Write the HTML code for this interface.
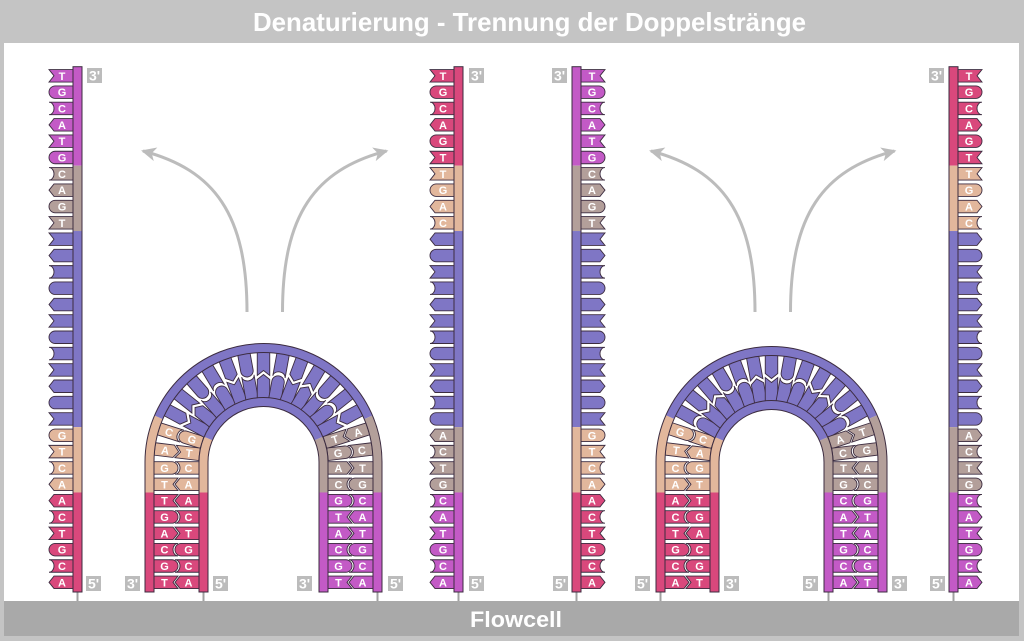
<!DOCTYPE html>
<html><head><meta charset="utf-8"><style>
html,body{margin:0;padding:0;background:#c4c4c4}
svg{display:block}
.lt{font:bold 11px "Liberation Sans",sans-serif;fill:#fff;text-anchor:middle}
.lb{font:bold 14px "Liberation Sans",sans-serif;fill:#fff;text-anchor:middle}
.bb{fill:none;stroke:#3c2c40;stroke-width:1}
</style></head><body>
<svg width="1024" height="641" viewBox="0 0 1024 641" xmlns="http://www.w3.org/2000/svg">
<defs>
<path id="bA" d="M0,-6.25H19L24,0L19,6.25H0Z" stroke="#3c2c40" stroke-width="0.9"/>
<path id="bT" d="M0,-6.25H24L19,0L24,6.25H0Z" stroke="#3c2c40" stroke-width="0.9"/>
<path id="bG" d="M0,-6.25H17.75A6.25,6.25 0 0 1 17.75,6.25H0Z" stroke="#3c2c40" stroke-width="0.9"/>
<path id="bC" d="M0,-6.25H24A5,6.25 0 0 0 24,6.25H0Z" stroke="#3c2c40" stroke-width="0.9"/>
<marker id="ah" markerUnits="userSpaceOnUse" markerWidth="20" markerHeight="20" refX="13" refY="7" orient="auto"><path d="M0,0L15,7L0,14L4,7Z" fill="#bcbcbc"/></marker>
<g id="sA">
<use href="#bT" y="75.8" fill="#c35ac6"/><use href="#bG" y="92.14" fill="#c35ac6"/><use href="#bC" y="108.48" fill="#c35ac6"/><use href="#bA" y="124.82" fill="#c35ac6"/><use href="#bT" y="141.16" fill="#c35ac6"/><use href="#bG" y="157.5" fill="#c35ac6"/>
<use href="#bC" y="173.84" fill="#b39f9a"/><use href="#bA" y="190.18" fill="#b39f9a"/><use href="#bG" y="206.52" fill="#b39f9a"/><use href="#bT" y="222.86" fill="#b39f9a"/>
<use href="#bT" y="239.2" fill="#7f76c5"/><use href="#bA" y="255.54" fill="#7f76c5"/><use href="#bC" y="271.88" fill="#7f76c5"/><use href="#bG" y="288.22" fill="#7f76c5"/><use href="#bA" y="304.56" fill="#7f76c5"/><use href="#bT" y="320.9" fill="#7f76c5"/><use href="#bG" y="337.24" fill="#7f76c5"/><use href="#bC" y="353.58" fill="#7f76c5"/><use href="#bT" y="369.92" fill="#7f76c5"/><use href="#bA" y="386.26" fill="#7f76c5"/><use href="#bG" y="402.6" fill="#7f76c5"/><use href="#bT" y="418.94" fill="#7f76c5"/>
<use href="#bG" y="435.28" fill="#e2b79c"/><use href="#bT" y="451.62" fill="#e2b79c"/><use href="#bC" y="467.96" fill="#e2b79c"/><use href="#bA" y="484.3" fill="#e2b79c"/>
<use href="#bA" y="500.64" fill="#d9487c"/><use href="#bC" y="516.98" fill="#d9487c"/><use href="#bT" y="533.32" fill="#d9487c"/><use href="#bG" y="549.66" fill="#d9487c"/><use href="#bC" y="566" fill="#d9487c"/><use href="#bA" y="582.34" fill="#d9487c"/>
<rect x="-9" y="66.7" width="9" height="98.97" fill="#c35ac6"/>
<rect x="-9" y="165.67" width="9" height="65.36" fill="#b39f9a"/>
<rect x="-9" y="231.03" width="9" height="196.08" fill="#7f76c5"/>
<rect x="-9" y="427.11" width="9" height="65.36" fill="#e2b79c"/>
<rect x="-9" y="492.47" width="9" height="99.53" fill="#d9487c"/>
<rect x="-9" y="66.7" width="9" height="525.3" class="bb"/>
</g>
<g id="sB">
<use href="#bT" y="75.8" fill="#d9487c"/><use href="#bG" y="92.14" fill="#d9487c"/><use href="#bC" y="108.48" fill="#d9487c"/><use href="#bA" y="124.82" fill="#d9487c"/><use href="#bG" y="141.16" fill="#d9487c"/><use href="#bT" y="157.5" fill="#d9487c"/>
<use href="#bT" y="173.84" fill="#e2b79c"/><use href="#bG" y="190.18" fill="#e2b79c"/><use href="#bA" y="206.52" fill="#e2b79c"/><use href="#bC" y="222.86" fill="#e2b79c"/>
<use href="#bA" y="239.2" fill="#7f76c5"/><use href="#bG" y="255.54" fill="#7f76c5"/><use href="#bT" y="271.88" fill="#7f76c5"/><use href="#bC" y="288.22" fill="#7f76c5"/><use href="#bA" y="304.56" fill="#7f76c5"/><use href="#bT" y="320.9" fill="#7f76c5"/><use href="#bC" y="337.24" fill="#7f76c5"/><use href="#bG" y="353.58" fill="#7f76c5"/><use href="#bT" y="369.92" fill="#7f76c5"/><use href="#bA" y="386.26" fill="#7f76c5"/><use href="#bC" y="402.6" fill="#7f76c5"/><use href="#bG" y="418.94" fill="#7f76c5"/>
<use href="#bA" y="435.28" fill="#b39f9a"/><use href="#bC" y="451.62" fill="#b39f9a"/><use href="#bT" y="467.96" fill="#b39f9a"/><use href="#bG" y="484.3" fill="#b39f9a"/>
<use href="#bC" y="500.64" fill="#c35ac6"/><use href="#bA" y="516.98" fill="#c35ac6"/><use href="#bT" y="533.32" fill="#c35ac6"/><use href="#bG" y="549.66" fill="#c35ac6"/><use href="#bC" y="566" fill="#c35ac6"/><use href="#bA" y="582.34" fill="#c35ac6"/>
<rect x="-9" y="66.7" width="9" height="98.97" fill="#d9487c"/>
<rect x="-9" y="165.67" width="9" height="65.36" fill="#e2b79c"/>
<rect x="-9" y="231.03" width="9" height="196.08" fill="#7f76c5"/>
<rect x="-9" y="427.11" width="9" height="65.36" fill="#b39f9a"/>
<rect x="-9" y="492.47" width="9" height="99.53" fill="#c35ac6"/>
<rect x="-9" y="66.7" width="9" height="525.3" class="bb"/>
</g>
</defs>

<!-- frame -->
<rect x="0" y="0" width="1024" height="641" fill="#c4c4c4"/>
<rect x="4" y="43" width="1015" height="558" fill="#ffffff"/>
<rect x="4" y="601" width="1015" height="35" fill="#a9a9a9"/>
<text x="529.5" y="31" font-family="Liberation Sans, sans-serif" font-weight="bold" font-size="26" fill="#fff" text-anchor="middle" textLength="553" lengthAdjust="spacingAndGlyphs">Denaturierung - Trennung der Doppelstränge</text>
<text x="516" y="627" font-family="Liberation Sans, sans-serif" font-weight="bold" font-size="22" fill="#fff" text-anchor="middle" textLength="92" lengthAdjust="spacingAndGlyphs">Flowcell</text>

<!-- stems -->
<g stroke="#a0a0a0" stroke-width="2">
<line x1="77.5" y1="592" x2="77.5" y2="601"/><line x1="458.5" y1="592" x2="458.5" y2="601"/>
<line x1="576.5" y1="592" x2="576.5" y2="601"/><line x1="953.5" y1="592" x2="953.5" y2="601"/>
<line x1="203.5" y1="592" x2="203.5" y2="601"/><line x1="377.5" y1="592" x2="377.5" y2="601"/>
<line x1="660.5" y1="592" x2="660.5" y2="601"/><line x1="828.5" y1="592" x2="828.5" y2="601"/>
</g>

<!-- arrows -->
<g fill="none" stroke="#bcbcbc" stroke-width="3" marker-end="url(#ah)">
<path d="M247,312C247,215 215,170 143,151"/>
<path d="M282.5,312C282.5,215 314.5,170 386.5,151"/>
<path d="M755,312C755,215 723,170 651,151"/>
<path d="M790.5,312C790.5,215 822.5,170 894.5,151"/>
</g>

<!-- single strands -->
<use href="#sA" transform="translate(73,0) scale(-1,1)"/>
<use href="#sB" transform="translate(454,0) scale(-1,1)"/>
<use href="#sA" transform="translate(581,0)"/>
<use href="#sB" transform="translate(958,0)"/>

<text class="lt" x="62 62 62 62 62 62 62 62 62 62" y="79.8 96.1 112.5 128.8 145.2 161.5 177.8 194.2 210.5 226.9">TGCATGCAGT</text>
<text class="lt" x="62 62 62 62 62 62 62 62 62 62" y="439.3 455.6 472 488.3 504.6 521 537.3 553.7 570 586.3">GTCAACTGCA</text>
<text class="lt" x="443 443 443 443 443 443 443 443 443 443" y="79.8 96.1 112.5 128.8 145.2 161.5 177.8 194.2 210.5 226.9">TGCAGTTGAC</text>
<text class="lt" x="443 443 443 443 443 443 443 443 443 443" y="439.3 455.6 472 488.3 504.6 521 537.3 553.7 570 586.3">ACTGCATGCA</text>
<text class="lt" x="592 592 592 592 592 592 592 592 592 592" y="79.8 96.1 112.5 128.8 145.2 161.5 177.8 194.2 210.5 226.9">TGCATGCAGT</text>
<text class="lt" x="592 592 592 592 592 592 592 592 592 592" y="439.3 455.6 472 488.3 504.6 521 537.3 553.7 570 586.3">GTCAACTGCA</text>
<text class="lt" x="969 969 969 969 969 969 969 969 969 969" y="79.8 96.1 112.5 128.8 145.2 161.5 177.8 194.2 210.5 226.9">TGCAGTTGAC</text>
<text class="lt" x="969 969 969 969 969 969 969 969 969 969" y="439.3 455.6 472 488.3 504.6 521 537.3 553.7 570 586.3">ACTGCATGCA</text>

<!-- ARCH 1 -->
<g transform="translate(263.5,462)">
<use href="#bG" x="-109.5" y="5.96" fill="#e2b79c"/>
<use href="#bT" x="-109.5" y="22.3" fill="#e2b79c"/>
<use href="#bT" x="-109.5" y="38.64" fill="#d9487c"/>
<use href="#bG" x="-109.5" y="54.98" fill="#d9487c"/>
<use href="#bA" x="-109.5" y="71.32" fill="#d9487c"/>
<use href="#bC" x="-109.5" y="87.66" fill="#d9487c"/>
<use href="#bG" x="-109.5" y="104" fill="#d9487c"/>
<use href="#bT" x="-109.5" y="120.34" fill="#d9487c"/>
<use href="#bC" transform="translate(-64.5,5.96) scale(-1,1)" fill="#e2b79c"/>
<use href="#bA" transform="translate(-64.5,22.3) scale(-1,1)" fill="#e2b79c"/>
<use href="#bA" transform="translate(-64.5,38.64) scale(-1,1)" fill="#d9487c"/>
<use href="#bC" transform="translate(-64.5,54.98) scale(-1,1)" fill="#d9487c"/>
<use href="#bT" transform="translate(-64.5,71.32) scale(-1,1)" fill="#d9487c"/>
<use href="#bG" transform="translate(-64.5,87.66) scale(-1,1)" fill="#d9487c"/>
<use href="#bC" transform="translate(-64.5,104) scale(-1,1)" fill="#d9487c"/>
<use href="#bA" transform="translate(-64.5,120.34) scale(-1,1)" fill="#d9487c"/>
<use href="#bC" transform="rotate(17.6) translate(-109.5,0)" fill="#e2b79c"/>
<use href="#bG" transform="rotate(17.6) translate(-64.5,0) scale(-1,1)" fill="#e2b79c"/>
<use href="#bA" transform="rotate(6.84) translate(-109.5,0)" fill="#e2b79c"/>
<use href="#bT" transform="rotate(6.84) translate(-64.5,0) scale(-1,1)" fill="#e2b79c"/>
<g fill="#7f76c5">
<use href="#bA" transform="rotate(28.23) translate(-110.5,0)"/><use href="#bT" transform="rotate(28.23) translate(-63.5,0) scale(-1,1)"/>
<use href="#bT" transform="rotate(38.52) translate(-110.5,0)"/><use href="#bA" transform="rotate(38.52) translate(-63.5,0) scale(-1,1)"/>
<use href="#bG" transform="rotate(48.82) translate(-110.5,0)"/><use href="#bC" transform="rotate(48.82) translate(-63.5,0) scale(-1,1)"/>
<use href="#bC" transform="rotate(59.11) translate(-110.5,0)"/><use href="#bG" transform="rotate(59.11) translate(-63.5,0) scale(-1,1)"/>
<use href="#bA" transform="rotate(69.41) translate(-110.5,0)"/><use href="#bT" transform="rotate(69.41) translate(-63.5,0) scale(-1,1)"/>
<use href="#bG" transform="rotate(79.71) translate(-110.5,0)"/><use href="#bC" transform="rotate(79.71) translate(-63.5,0) scale(-1,1)"/>
<use href="#bT" transform="rotate(90) translate(-110.5,0)"/><use href="#bA" transform="rotate(90) translate(-63.5,0) scale(-1,1)"/>
<use href="#bC" transform="rotate(100.29) translate(-110.5,0)"/><use href="#bG" transform="rotate(100.29) translate(-63.5,0) scale(-1,1)"/>
<use href="#bA" transform="rotate(110.59) translate(-110.5,0)"/><use href="#bT" transform="rotate(110.59) translate(-63.5,0) scale(-1,1)"/>
<use href="#bT" transform="rotate(120.89) translate(-110.5,0)"/><use href="#bA" transform="rotate(120.89) translate(-63.5,0) scale(-1,1)"/>
<use href="#bG" transform="rotate(131.18) translate(-110.5,0)"/><use href="#bC" transform="rotate(131.18) translate(-63.5,0) scale(-1,1)"/>
<use href="#bC" transform="rotate(141.48) translate(-110.5,0)"/><use href="#bG" transform="rotate(141.48) translate(-63.5,0) scale(-1,1)"/>
<use href="#bA" transform="rotate(151.77) translate(-110.5,0)"/><use href="#bT" transform="rotate(151.77) translate(-63.5,0) scale(-1,1)"/>
</g>
<use href="#bA" x="64.5" y="5.96" fill="#b39f9a"/>
<use href="#bC" x="64.5" y="22.3" fill="#b39f9a"/>
<use href="#bG" x="64.5" y="38.64" fill="#c35ac6"/>
<use href="#bT" x="64.5" y="54.98" fill="#c35ac6"/>
<use href="#bA" x="64.5" y="71.32" fill="#c35ac6"/>
<use href="#bC" x="64.5" y="87.66" fill="#c35ac6"/>
<use href="#bG" x="64.5" y="104" fill="#c35ac6"/>
<use href="#bT" x="64.5" y="120.34" fill="#c35ac6"/>
<use href="#bT" transform="translate(109.5,5.96) scale(-1,1)" fill="#b39f9a"/>
<use href="#bG" transform="translate(109.5,22.3) scale(-1,1)" fill="#b39f9a"/>
<use href="#bC" transform="translate(109.5,38.64) scale(-1,1)" fill="#c35ac6"/>
<use href="#bA" transform="translate(109.5,54.98) scale(-1,1)" fill="#c35ac6"/>
<use href="#bT" transform="translate(109.5,71.32) scale(-1,1)" fill="#c35ac6"/>
<use href="#bG" transform="translate(109.5,87.66) scale(-1,1)" fill="#c35ac6"/>
<use href="#bC" transform="translate(109.5,104) scale(-1,1)" fill="#c35ac6"/>
<use href="#bA" transform="translate(109.5,120.34) scale(-1,1)" fill="#c35ac6"/>
<use href="#bT" transform="rotate(-17.6) translate(64.5,0)" fill="#b39f9a"/>
<use href="#bA" transform="rotate(-17.6) translate(109.5,0) scale(-1,1)" fill="#b39f9a"/>
<use href="#bG" transform="rotate(-6.84) translate(64.5,0)" fill="#b39f9a"/>
<use href="#bC" transform="rotate(-6.84) translate(109.5,0) scale(-1,1)" fill="#b39f9a"/>
<!-- backbones -->
<rect x="-118.5" y="30.47" width="9" height="99.53" fill="#d9487c"/>
<path d="M-114,30.47V0A114,114 0 0 1 -104.88,-44.69" fill="none" stroke="#e2b79c" stroke-width="9"/>
<path d="M-104.88,-44.69A114,114 0 0 1 104.88,-44.69" fill="none" stroke="#7f76c5" stroke-width="9"/>
<path d="M104.88,-44.69A114,114 0 0 1 114,0V30.47" fill="none" stroke="#b39f9a" stroke-width="9"/>
<rect x="109.5" y="30.47" width="9" height="99.53" fill="#c35ac6"/>
<rect x="-64.5" y="30.47" width="9" height="99.53" fill="#d9487c"/>
<path d="M-60,30.47V0A60,60 0 0 1 -55.2,-23.52" fill="none" stroke="#e2b79c" stroke-width="9"/>
<path d="M-55.2,-23.52A60,60 0 0 1 55.2,-23.52" fill="none" stroke="#7f76c5" stroke-width="9"/>
<path d="M55.2,-23.52A60,60 0 0 1 60,0V30.47" fill="none" stroke="#b39f9a" stroke-width="9"/>
<rect x="55.5" y="30.47" width="9" height="99.53" fill="#c35ac6"/>
<path class="bb" d="M-118.5,130V0A118.5,118.5 0 0 1 118.5,0V130H109.5V0A109.5,109.5 0 0 0 -109.5,0V130Z"/>
<path class="bb" d="M-64.5,130V0A64.5,64.5 0 0 1 64.5,0V130H55.5V0A55.5,55.5 0 0 0 -55.5,0V130Z"/>
<!-- letters -->
<text class="lt" x="-99 -99 -99 -99 -99 -99 -99 -99" y="9.96 26.3 42.64 58.98 75.32 91.66 108 124.34">GTTGACGT</text>
<text class="lt" x="-75 -75 -75 -75 -75 -75 -75 -75" y="9.96 26.3 42.64 58.98 75.32 91.66 108 124.34">CAACTGCA</text>
<text class="lt" x="75 75 75 75 75 75 75 75" y="9.96 26.3 42.64 58.98 75.32 91.66 108 124.34">ACGTACGT</text>
<text class="lt" x="99 99 99 99 99 99 99 99" y="9.96 26.3 42.64 58.98 75.32 91.66 108 124.34">TGCATGCA</text>
<text class="lt" transform="rotate(17.6) translate(-99,4)">C</text>
<text class="lt" transform="rotate(17.6) translate(-75,4)">G</text>
<text class="lt" transform="rotate(6.84) translate(-99,4)">A</text>
<text class="lt" transform="rotate(6.84) translate(-75,4)">T</text>
<text class="lt" transform="rotate(-17.6) translate(75,4)">T</text>
<text class="lt" transform="rotate(-17.6) translate(99,4)">A</text>
<text class="lt" transform="rotate(-6.84) translate(75,4)">G</text>
<text class="lt" transform="rotate(-6.84) translate(99,4)">C</text>
</g>

<!-- ARCH 2 -->
<g transform="translate(771.5,462)">
<use href="#bC" x="-106.5" y="5.96" fill="#e2b79c"/>
<use href="#bA" x="-106.5" y="22.3" fill="#e2b79c"/>
<use href="#bA" x="-106.5" y="38.64" fill="#d9487c"/>
<use href="#bC" x="-106.5" y="54.98" fill="#d9487c"/>
<use href="#bT" x="-106.5" y="71.32" fill="#d9487c"/>
<use href="#bG" x="-106.5" y="87.66" fill="#d9487c"/>
<use href="#bC" x="-106.5" y="104" fill="#d9487c"/>
<use href="#bA" x="-106.5" y="120.34" fill="#d9487c"/>
<use href="#bG" transform="translate(-61.5,5.96) scale(-1,1)" fill="#e2b79c"/>
<use href="#bT" transform="translate(-61.5,22.3) scale(-1,1)" fill="#e2b79c"/>
<use href="#bT" transform="translate(-61.5,38.64) scale(-1,1)" fill="#d9487c"/>
<use href="#bG" transform="translate(-61.5,54.98) scale(-1,1)" fill="#d9487c"/>
<use href="#bA" transform="translate(-61.5,71.32) scale(-1,1)" fill="#d9487c"/>
<use href="#bC" transform="translate(-61.5,87.66) scale(-1,1)" fill="#d9487c"/>
<use href="#bG" transform="translate(-61.5,104) scale(-1,1)" fill="#d9487c"/>
<use href="#bT" transform="translate(-61.5,120.34) scale(-1,1)" fill="#d9487c"/>
<use href="#bG" transform="rotate(18.23) translate(-106.5,0)" fill="#e2b79c"/>
<use href="#bC" transform="rotate(18.23) translate(-61.5,0) scale(-1,1)" fill="#e2b79c"/>
<use href="#bT" transform="rotate(7.08) translate(-106.5,0)" fill="#e2b79c"/>
<use href="#bA" transform="rotate(7.08) translate(-61.5,0) scale(-1,1)" fill="#e2b79c"/>
<g fill="#7f76c5">
<use href="#bC" transform="rotate(28.98) translate(-107.5,0)"/><use href="#bG" transform="rotate(28.98) translate(-60.5,0) scale(-1,1)"/>
<use href="#bA" transform="rotate(39.15) translate(-107.5,0)"/><use href="#bT" transform="rotate(39.15) translate(-60.5,0) scale(-1,1)"/>
<use href="#bT" transform="rotate(49.32) translate(-107.5,0)"/><use href="#bA" transform="rotate(49.32) translate(-60.5,0) scale(-1,1)"/>
<use href="#bG" transform="rotate(59.49) translate(-107.5,0)"/><use href="#bC" transform="rotate(59.49) translate(-60.5,0) scale(-1,1)"/>
<use href="#bC" transform="rotate(69.66) translate(-107.5,0)"/><use href="#bG" transform="rotate(69.66) translate(-60.5,0) scale(-1,1)"/>
<use href="#bT" transform="rotate(79.83) translate(-107.5,0)"/><use href="#bA" transform="rotate(79.83) translate(-60.5,0) scale(-1,1)"/>
<use href="#bA" transform="rotate(90) translate(-107.5,0)"/><use href="#bT" transform="rotate(90) translate(-60.5,0) scale(-1,1)"/>
<use href="#bG" transform="rotate(100.17) translate(-107.5,0)"/><use href="#bC" transform="rotate(100.17) translate(-60.5,0) scale(-1,1)"/>
<use href="#bC" transform="rotate(110.34) translate(-107.5,0)"/><use href="#bG" transform="rotate(110.34) translate(-60.5,0) scale(-1,1)"/>
<use href="#bA" transform="rotate(120.51) translate(-107.5,0)"/><use href="#bT" transform="rotate(120.51) translate(-60.5,0) scale(-1,1)"/>
<use href="#bT" transform="rotate(130.68) translate(-107.5,0)"/><use href="#bA" transform="rotate(130.68) translate(-60.5,0) scale(-1,1)"/>
<use href="#bG" transform="rotate(140.85) translate(-107.5,0)"/><use href="#bC" transform="rotate(140.85) translate(-60.5,0) scale(-1,1)"/>
<use href="#bC" transform="rotate(151.02) translate(-107.5,0)"/><use href="#bG" transform="rotate(151.02) translate(-60.5,0) scale(-1,1)"/>
</g>
<use href="#bT" x="61.5" y="5.96" fill="#b39f9a"/>
<use href="#bG" x="61.5" y="22.3" fill="#b39f9a"/>
<use href="#bC" x="61.5" y="38.64" fill="#c35ac6"/>
<use href="#bA" x="61.5" y="54.98" fill="#c35ac6"/>
<use href="#bT" x="61.5" y="71.32" fill="#c35ac6"/>
<use href="#bG" x="61.5" y="87.66" fill="#c35ac6"/>
<use href="#bC" x="61.5" y="104" fill="#c35ac6"/>
<use href="#bA" x="61.5" y="120.34" fill="#c35ac6"/>
<use href="#bA" transform="translate(106.5,5.96) scale(-1,1)" fill="#b39f9a"/>
<use href="#bC" transform="translate(106.5,22.3) scale(-1,1)" fill="#b39f9a"/>
<use href="#bG" transform="translate(106.5,38.64) scale(-1,1)" fill="#c35ac6"/>
<use href="#bT" transform="translate(106.5,54.98) scale(-1,1)" fill="#c35ac6"/>
<use href="#bA" transform="translate(106.5,71.32) scale(-1,1)" fill="#c35ac6"/>
<use href="#bC" transform="translate(106.5,87.66) scale(-1,1)" fill="#c35ac6"/>
<use href="#bG" transform="translate(106.5,104) scale(-1,1)" fill="#c35ac6"/>
<use href="#bT" transform="translate(106.5,120.34) scale(-1,1)" fill="#c35ac6"/>
<use href="#bA" transform="rotate(-18.23) translate(61.5,0)" fill="#b39f9a"/>
<use href="#bT" transform="rotate(-18.23) translate(106.5,0) scale(-1,1)" fill="#b39f9a"/>
<use href="#bC" transform="rotate(-7.08) translate(61.5,0)" fill="#b39f9a"/>
<use href="#bG" transform="rotate(-7.08) translate(106.5,0) scale(-1,1)" fill="#b39f9a"/>
<!-- backbones -->
<rect x="-115.5" y="30.47" width="9" height="99.53" fill="#d9487c"/>
<path d="M-111,30.47V0A111,111 0 0 1 -101.49,-44.97" fill="none" stroke="#e2b79c" stroke-width="9"/>
<path d="M-101.49,-44.97A111,111 0 0 1 101.49,-44.97" fill="none" stroke="#7f76c5" stroke-width="9"/>
<path d="M101.49,-44.97A111,111 0 0 1 111,0V30.47" fill="none" stroke="#b39f9a" stroke-width="9"/>
<rect x="106.5" y="30.47" width="9" height="99.53" fill="#c35ac6"/>
<rect x="-61.5" y="30.47" width="9" height="99.53" fill="#d9487c"/>
<path d="M-57,30.47V0A57,57 0 0 1 -52.12,-23.09" fill="none" stroke="#e2b79c" stroke-width="9"/>
<path d="M-52.12,-23.09A57,57 0 0 1 52.12,-23.09" fill="none" stroke="#7f76c5" stroke-width="9"/>
<path d="M52.12,-23.09A57,57 0 0 1 57,0V30.47" fill="none" stroke="#b39f9a" stroke-width="9"/>
<rect x="52.5" y="30.47" width="9" height="99.53" fill="#c35ac6"/>
<path class="bb" d="M-115.5,130V0A115.5,115.5 0 0 1 115.5,0V130H106.5V0A106.5,106.5 0 0 0 -106.5,0V130Z"/>
<path class="bb" d="M-61.5,130V0A61.5,61.5 0 0 1 61.5,0V130H52.5V0A52.5,52.5 0 0 0 -52.5,0V130Z"/>
<!-- letters -->
<text class="lt" x="-96 -96 -96 -96 -96 -96 -96 -96" y="9.96 26.3 42.64 58.98 75.32 91.66 108 124.34">CAACTGCA</text>
<text class="lt" x="-72 -72 -72 -72 -72 -72 -72 -72" y="9.96 26.3 42.64 58.98 75.32 91.66 108 124.34">GTTGACGT</text>
<text class="lt" x="72 72 72 72 72 72 72 72" y="9.96 26.3 42.64 58.98 75.32 91.66 108 124.34">TGCATGCA</text>
<text class="lt" x="96 96 96 96 96 96 96 96" y="9.96 26.3 42.64 58.98 75.32 91.66 108 124.34">ACGTACGT</text>
<text class="lt" transform="rotate(18.23) translate(-96,4)">G</text>
<text class="lt" transform="rotate(18.23) translate(-72,4)">C</text>
<text class="lt" transform="rotate(7.08) translate(-96,4)">T</text>
<text class="lt" transform="rotate(7.08) translate(-72,4)">A</text>
<text class="lt" transform="rotate(-18.23) translate(72,4)">A</text>
<text class="lt" transform="rotate(-18.23) translate(96,4)">T</text>
<text class="lt" transform="rotate(-7.08) translate(72,4)">C</text>
<text class="lt" transform="rotate(-7.08) translate(96,4)">G</text>
</g>

<!-- end labels -->
<g fill="#bcbcbc">
<rect x="87" y="68" width="15" height="15"/><rect x="86" y="576" width="15" height="15"/>
<rect x="469" y="68" width="15" height="15"/><rect x="469" y="576" width="15" height="15"/>
<rect x="552" y="68" width="15" height="15"/><rect x="553" y="576" width="15" height="15"/>
<rect x="929" y="68" width="15" height="15"/><rect x="930" y="576" width="15" height="15"/>
<rect x="125" y="576" width="15" height="15"/><rect x="213" y="576" width="15" height="15"/>
<rect x="297" y="576" width="15" height="15"/><rect x="388" y="576" width="15" height="15"/>
<rect x="635" y="576" width="15" height="15"/><rect x="724" y="576" width="15" height="15"/>
<rect x="803" y="576" width="15" height="15"/><rect x="892" y="576" width="15" height="15"/>
</g>
<text class="lb" x="94.5" y="80.5">3'</text><text class="lb" x="93.5" y="588.5">5'</text>
<text class="lb" x="476.5" y="80.5">3'</text><text class="lb" x="476.5" y="588.5">5'</text>
<text class="lb" x="559.5" y="80.5">3'</text><text class="lb" x="560.5" y="588.5">5'</text>
<text class="lb" x="936.5" y="80.5">3'</text><text class="lb" x="937.5" y="588.5">5'</text>
<text class="lb" x="132.5" y="588.5">3'</text><text class="lb" x="220.5" y="588.5">5'</text>
<text class="lb" x="304.5" y="588.5">3'</text><text class="lb" x="395.5" y="588.5">5'</text>
<text class="lb" x="642.5" y="588.5">5'</text><text class="lb" x="731.5" y="588.5">3'</text>
<text class="lb" x="810.5" y="588.5">5'</text><text class="lb" x="899.5" y="588.5">3'</text>
</svg>
</body></html>
